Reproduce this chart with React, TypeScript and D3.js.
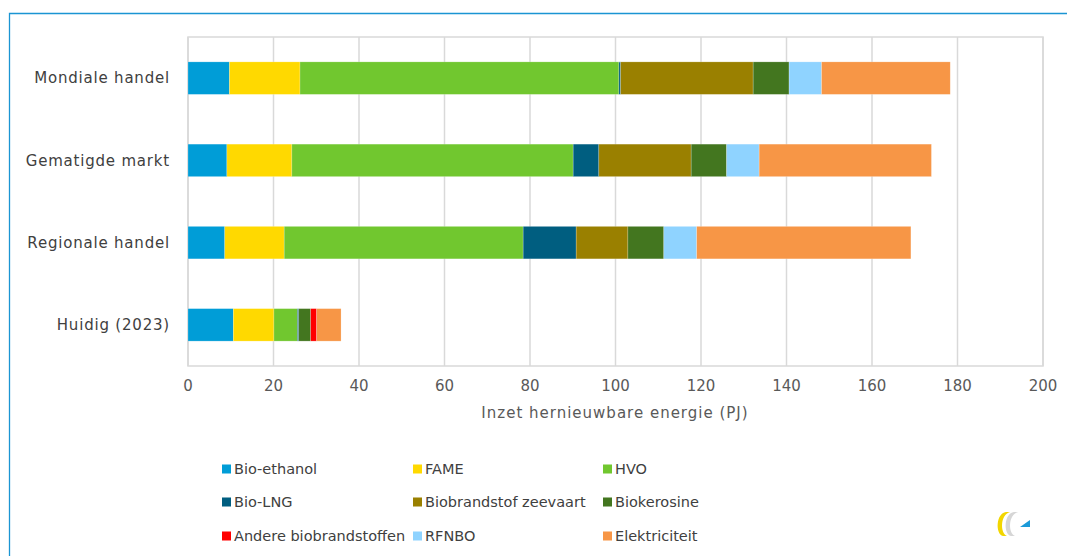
import React from 'react';
import * as d3 from 'd3';

const categories = ['Mondiale handel', 'Gematigde markt', 'Regionale handel', 'Huidig (2023)'];

const seriesNames = [
  'Bio-ethanol', 'FAME', 'HVO', 'Bio-LNG', 'Biobrandstof zeevaart',
  'Biokerosine', 'Andere biobrandstoffen', 'RFNBO', 'Elektriciteit',
];

const seriesColors = [
  '#009dd7', '#ffd900', '#71c72f', '#005e80', '#9a8000',
  '#43761f', '#ff0000', '#8fd3ff', '#f79646',
];

// values per category, in the order of seriesNames (PJ)
const bioEthanol = [9.7, 9.1, 8.6, 10.6];
const fame = [16.5, 15.2, 13.9, 9.5];
const hvo = [74.6, 65.8, 55.9, 5.5];
const bioLng = [0.4, 6.0, 12.4, 0.3];
const zeevaart = [31.0, 21.6, 12.1, 0];
const biokerosine = [8.4, 8.3, 8.4, 2.8];
const andere = [0, 0, 0, 1.4];
const rfnbo = [7.6, 7.6, 7.7, 0];
const elektriciteit = [30.1, 40.3, 50.1, 5.7];

const seriesValues = [bioEthanol, fame, hvo, bioLng, zeevaart, biokerosine, andere, rfnbo, elektriciteit];

const xTicks = [0, 20, 40, 60, 80, 100, 120, 140, 160, 180, 200];

const W = 1067;
const H = 556;
const font = '"DejaVu Sans", Verdana, sans-serif';

export default function App() {
  const x = d3.scaleLinear().domain([0, 200]).range([188, 1043]);
  const y = d3.scaleBand<string>().domain(categories).range([37, 366]).paddingInner(0.605).paddingOuter(0.3025);

  const rows = categories.map((c, i) => {
    const obj: Record<string, number | string> = { cat: c };
    seriesNames.forEach((s, j) => { obj[s] = seriesValues[j][i]; });
    return obj;
  });
  const stacked = d3.stack<any>().keys(seriesNames)(rows);

  const legendCols = [222, 413, 603];
  const legendRows = [469, 502, 536];

  return (
    <svg width={W} height={H} style={{ position: 'absolute', left: 0, top: 0, background: '#fff' }} fontFamily={font}>
      <rect x={0} y={0} width={W} height={H} fill="#fff" />
      {/* outer frame */}
      <path d={`M9.5,${H} V13.5 H${W}`} fill="none" stroke="#1b95d3" strokeWidth={1.3} />

      {/* gridlines */}
      {xTicks.map(t => (
        <line key={t} x1={x(t)} x2={x(t)} y1={37} y2={366} stroke="#d9d9d9" strokeWidth={1.5} />
      ))}
      <rect x={188} y={37} width={855} height={329} fill="none" stroke="#d9d9d9" strokeWidth={1.5} />

      {/* bars */}
      {stacked.map((layer, j) => (
        <g key={layer.key} fill={seriesColors[j]}>
          {layer.map((d, i) => {
            const w = x(d[1]) - x(d[0]);
            if (w <= 0) return null;
            return (
              <rect key={i} x={x(d[0])} y={y(categories[i])} width={w} height={y.bandwidth()}
                stroke="#ffffff" strokeOpacity={0.35} strokeWidth={0.6} />
            );
          })}
        </g>
      ))}

      {/* category labels */}
      {categories.map(c => (
        <text key={c} x={170} y={(y(c) as number) + y.bandwidth() / 2} dy="0.35em" textAnchor="end"
          fontSize={15} letterSpacing={0.8} fill="#404040">{c}</text>
      ))}

      {/* x tick labels */}
      {xTicks.map(t => (
        <text key={t} x={x(t)} y={386} dy="0.35em" textAnchor="middle" fontSize={15} fill="#595959">{t}</text>
      ))}
      <text x={615} y={413} dy="0.35em" textAnchor="middle" fontSize={15} letterSpacing={1} fill="#595959">
        Inzet hernieuwbare energie (PJ)
      </text>

      {/* legend */}
      {seriesNames.map((s, j) => {
        const cx = legendCols[j % 3];
        const cy = legendRows[Math.floor(j / 3)];
        return (
          <g key={s}>
            <rect x={cx} y={cy - 4.5} width={9} height={9} fill={seriesColors[j]} />
            <text x={cx + 12} y={cy} dy="0.35em" fontSize={14.5} fill="#404040">{s}</text>
          </g>
        );
      })}

      {/* logo */}
      <g transform="translate(997,512)">
        <path d="M9,0 C-1,1 -2,22 6,24 L10,24 C3,21 3,3 13,0 Z" fill="#f2d600" />
        <path d="M17,0 C7,1 6,22 14,24 L18,24 C11,21 11,3 21,0 Z" fill="#d6d6d6" />
        <path d="M23,15 L33,8 L33,15 Z" fill="#1b9ad8" />
      </g>
    </svg>
  );
}
